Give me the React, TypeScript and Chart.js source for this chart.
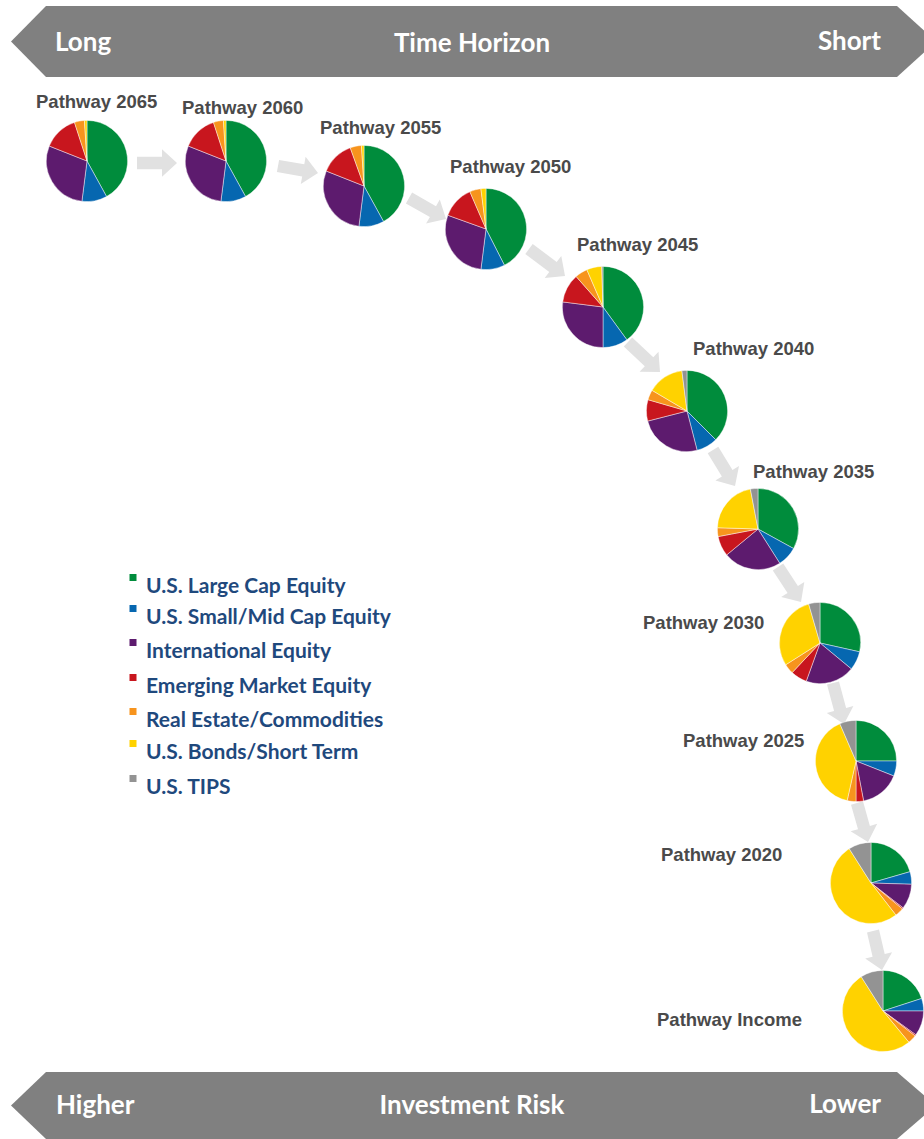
import React, { useEffect, useRef } from "react";
import { Chart, registerables } from "chart.js";

Chart.register(...registerables);

// ---------- DATA ----------
const pathways = [
  "Pathway 2065",
  "Pathway 2060",
  "Pathway 2055",
  "Pathway 2050",
  "Pathway 2045",
  "Pathway 2040",
  "Pathway 2035",
  "Pathway 2030",
  "Pathway 2025",
  "Pathway 2020",
  "Pathway Income",
];

const assetClasses = [
  "U.S. Large Cap Equity",
  "U.S. Small/Mid Cap Equity",
  "International Equity",
  "Emerging Market Equity",
  "Real Estate/Commodities",
  "U.S. Bonds/Short Term",
  "U.S. TIPS",
];

// allocation (%) per pathway, in the order of `pathways`
const usLargeCap = [42, 42, 42, 42.5, 40, 37.5, 33, 28.5, 25, 20.5, 20];
const usSmallMid = [10, 10, 10, 9.5, 10, 8.5, 8, 7.5, 6, 5, 5];
const international = [29, 29, 29, 28.5, 27, 25, 23, 19.5, 16, 10, 10];
const emergingMarket = [14, 14, 13.5, 13, 11.5, 8.5, 8, 6.5, 3, 0.5, 0.5];
const realEstateCommod = [4, 4, 4.5, 4.5, 5, 4, 3.5, 4, 3.5, 3.5, 3.5];
const usBondsShort = [1, 1, 1, 2, 6, 14.5, 21.5, 29.5, 40, 51.5, 52];
const usTips = [0, 0, 0, 0, 0.5, 2, 3, 4.5, 6.5, 9, 9];

const series = [
  usLargeCap,
  usSmallMid,
  international,
  emergingMarket,
  realEstateCommod,
  usBondsShort,
  usTips,
];

const topBanner = ["Long", "Time Horizon", "Short"];
const bottomBanner = ["Higher", "Investment Risk", "Lower"];

// ---------- STYLE / LAYOUT ----------
const COLORS = [
  "#008C3C",
  "#0667B0",
  "#5D1B6E",
  "#C8161E",
  "#F7941D",
  "#FFD200",
  "#939393",
];

const PIE_SIZE = 82;

// pie centres
const pieLayout = [
  { cx: 87, cy: 161 },
  { cx: 226, cy: 161 },
  { cx: 364, cy: 186 },
  { cx: 486, cy: 229 },
  { cx: 603, cy: 307 },
  { cx: 687, cy: 411 },
  { cx: 758, cy: 529 },
  { cx: 820, cy: 643 },
  { cx: 856, cy: 761 },
  { cx: 871, cy: 883 },
  { cx: 883, cy: 1011 },
];

// label left x and vertical centre
const labelLayout = [
  { x: 36, y: 101 },
  { x: 182, y: 107 },
  { x: 320, y: 127 },
  { x: 450, y: 166 },
  { x: 577, y: 244 },
  { x: 693, y: 348 },
  { x: 753, y: 471 },
  { x: 643, y: 622 },
  { x: 683, y: 740 },
  { x: 661, y: 854 },
  { x: 657, y: 1019 },
];

// arrows: start -> tip
const arrowLayout = [
  [137, 163, 177, 163],
  [278, 166, 318, 173],
  [409, 198, 446, 219],
  [529, 249, 565, 276],
  [628, 342, 660, 372],
  [713, 450, 735, 486],
  [778, 567, 801, 602],
  [833, 683, 844, 724],
  [857, 803, 868, 842],
  [873, 931, 882, 970],
];

const legendBaselines = [593, 624, 658, 693, 727, 759, 794];

function arrowPoints(x1: number, y1: number, x2: number, y2: number) {
  const dx = x2 - x1;
  const dy = y2 - y1;
  const L = Math.hypot(dx, dy);
  const ux = dx / L;
  const uy = dy / L;
  const nx = -uy;
  const ny = ux;
  const sw = 6.2;
  const hw = 13.8;
  const hl = 15;
  const bx = x2 - ux * hl;
  const by = y2 - uy * hl;
  const pts = [
    [x1 + nx * sw, y1 + ny * sw],
    [bx + nx * sw, by + ny * sw],
    [bx + nx * hw, by + ny * hw],
    [x2, y2],
    [bx - nx * hw, by - ny * hw],
    [bx - nx * sw, by - ny * sw],
    [x1 - nx * sw, y1 - ny * sw],
  ];
  return pts.map((p) => p[0].toFixed(1) + "," + p[1].toFixed(1)).join(" ");
}

function bannerPoints(top: number, bottom: number) {
  const mid = (top + bottom) / 2;
  return [
    [46, top],
    [897, top],
    [936, mid],
    [897, bottom],
    [46, bottom],
    [11, mid],
  ]
    .map((p) => p.join(","))
    .join(" ");
}

function Pie({ index }: { index: number }) {
  const ref = useRef<HTMLCanvasElement>(null);
  useEffect(() => {
    if (!ref.current) return;
    const chart = new Chart(ref.current, {
      type: "pie",
      data: {
        labels: assetClasses,
        datasets: [
          {
            data: series.map((s) => s[index]),
            backgroundColor: COLORS,
            borderColor: "rgba(255,255,255,0.55)",
            borderWidth: 0.8,
          },
        ],
      },
      options: {
        responsive: false,
        animation: false,
        rotation: 0,
        layout: { padding: 0 },
        plugins: {
          legend: { display: false },
          tooltip: { enabled: false },
          title: { display: false },
        },
        events: [],
      },
    });
    return () => chart.destroy();
  }, [index]);
  const { cx, cy } = pieLayout[index];
  return (
    <canvas
      ref={ref}
      width={PIE_SIZE}
      height={PIE_SIZE}
      style={{
        position: "absolute",
        left: cx - PIE_SIZE / 2,
        top: cy - PIE_SIZE / 2,
        width: PIE_SIZE,
        height: PIE_SIZE,
      }}
    />
  );
}

export default function App() {
  const bannerFont = {
    fontFamily: "Lato, 'Open Sans', sans-serif",
    fontWeight: 700,
    fontSize: 26,
    fill: "#ffffff",
  } as const;
  return (
    <div
      style={{
        position: "absolute",
        left: 0,
        top: 0,
        width: 924,
        height: 1139,
        overflow: "hidden",
        background: "#ffffff",
      }}
    >
      <svg
        width={924}
        height={1139}
        style={{ position: "absolute", left: 0, top: 0 }}
      >
        {/* top banner */}
        <polygon points={bannerPoints(6, 77)} fill="#808080" />
        <text x={55} y={51} {...bannerFont}>
          {topBanner[0]}
        </text>
        <text x={472} y={52} textAnchor="middle" {...bannerFont}>
          {topBanner[1]}
        </text>
        <text x={881} y={50} textAnchor="end" {...bannerFont}>
          {topBanner[2]}
        </text>

        {/* bottom banner */}
        <polygon points={bannerPoints(1072, 1139)} fill="#808080" />
        <text x={56} y={1114} {...bannerFont}>
          {bottomBanner[0]}
        </text>
        <text x={472} y={1114} textAnchor="middle" {...bannerFont}>
          {bottomBanner[1]}
        </text>
        <text x={881} y={1113} textAnchor="end" {...bannerFont}>
          {bottomBanner[2]}
        </text>

        {/* arrows */}
        {arrowLayout.map((a, i) => (
          <polygon
            key={"a" + i}
            points={arrowPoints(a[0], a[1], a[2], a[3])}
            fill="#E1E1E1"
          />
        ))}

        {/* pathway labels */}
        {pathways.map((p, i) => (
          <text
            key={"l" + i}
            x={labelLayout[i].x}
            y={labelLayout[i].y + 6.5}
            fontFamily="'Liberation Sans', Arial, sans-serif"
            fontWeight={700}
            fontSize={18.5}
            fill="#4A4A4A"
          >
            {p}
          </text>
        ))}

        {/* legend */}
        {assetClasses.map((a, i) => (
          <g key={"g" + i}>
            <rect
              x={129.5}
              y={legendBaselines[i] - 19}
              width={7}
              height={7}
              fill={COLORS[i]}
            />
            <text
              x={146}
              y={legendBaselines[i]}
              fontFamily="Lato, 'Open Sans', sans-serif"
              fontWeight={700}
              fontSize={21}
              fill="#1F497D"
            >
              {a}
            </text>
          </g>
        ))}
      </svg>
      {pathways.map((_, i) => (
        <Pie key={i} index={i} />
      ))}
    </div>
  );
}
